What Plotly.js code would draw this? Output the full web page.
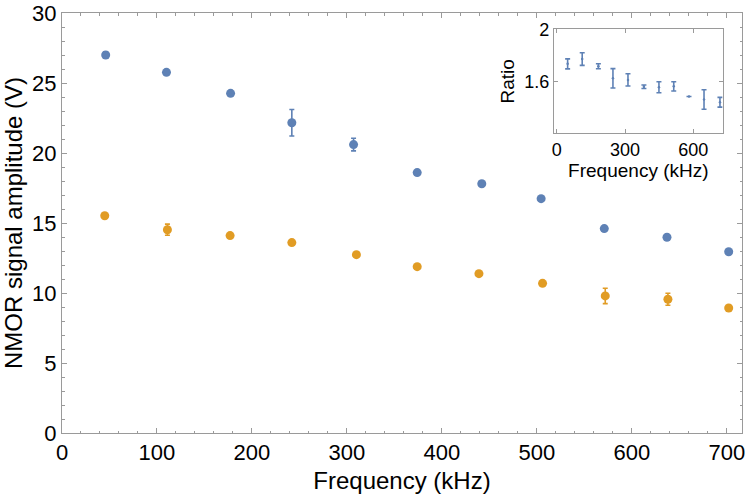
<!DOCTYPE html>
<html>
<head>
<meta charset="utf-8">
<script src="https://cdn.plot.ly/plotly-3.0.1.min.js"></script>
<style>
  html, body { margin: 0; padding: 0; background: #ffffff; }
  #chart { width: 747px; height: 498px; }
</style>
</head>
<body>
<div id="chart"></div>
<script>
  // main panel: NMOR signal amplitude vs frequency
  const freqBlue = [46, 110, 177.5, 242, 307, 374, 442, 504.5, 571, 637, 702];
  const ampBlue = [27.0, 25.76, 24.26, 22.16, 20.6, 18.6, 17.8, 16.74, 14.6, 13.98, 12.95];
  const errBlue = [0.22, 0.12, 0.12, 0.95, 0.45, 0.1, 0.1, 0.1, 0.12, 0.12, 0.12];

  const freqOrange = [45, 111, 177, 242, 310, 374, 439, 506, 572, 638, 702];
  const ampOrange = [15.52, 14.52, 14.1, 13.6, 12.74, 11.88, 11.38, 10.69, 9.79, 9.55, 8.93];
  const errOrange = [0.12, 0.4, 0.12, 0.12, 0.12, 0.12, 0.12, 0.12, 0.55, 0.43, 0.12];

  // inset: ratio of the two amplitudes (no visible bar on the 9th point)
  const freqRatio = [48, 112, 183, 247, 313, 383, 449, 514, 581, 647, 717];
  const ratio = [1.738, 1.774, 1.72, 1.628, 1.616, 1.564, 1.56, 1.567, 1.49, 1.467, 1.446];
  const errRatio = [0.038, 0.048, 0.019, 0.074, 0.047, 0.013, 0.042, 0.035, null, 0.074, 0.037];

  const BLUE = "#5e81b5";
  const ORANGE = "#e19c24";
  const FRAME = "#9a9a9a";
  const FONT = "Liberation Sans, Arial, sans-serif";

  function errBars(arr, color, width) {
    return { type: "data", array: arr, visible: true, color: color, thickness: 1.6, width: width };
  }

  const traces = [
    {
      type: "scatter", mode: "markers", x: freqBlue, y: ampBlue,
      error_y: errBars(errBlue, BLUE, 2.5),
      marker: { color: BLUE, size: 9 }, hoverinfo: "x+y"
    },
    {
      type: "scatter", mode: "markers", x: freqOrange, y: ampOrange,
      error_y: errBars(errOrange, ORANGE, 2.5),
      marker: { color: ORANGE, size: 9 }, hoverinfo: "x+y"
    },
    {
      type: "scatter", mode: "markers", x: freqRatio, y: ratio, xaxis: "x2", yaxis: "y2",
      error_y: errBars(errRatio, BLUE, 2.5),
      marker: { color: BLUE, size: 2.5 }, hoverinfo: "x+y"
    }
  ];

  const frameAxis = {
    showline: true, linecolor: FRAME, linewidth: 1, mirror: "allticks",
    ticks: "inside", tickcolor: FRAME, ticklen: 5, tickwidth: 1,
    showgrid: false, zeroline: false, fixedrange: true,
    tickfont: { family: FONT, size: 22, color: "#000" }
  };

  const layout = {
    width: 747, height: 498,
    margin: { l: 62, r: 5, t: 13, b: 65 },
    paper_bgcolor: "#ffffff", plot_bgcolor: "#ffffff",
    showlegend: false,
    font: { family: FONT, color: "#000" },
    xaxis: Object.assign({}, frameAxis, {
      range: [0, 716], tickvals: [0, 100, 200, 300, 400, 500, 600, 700],
      minor: { ticks: "inside", ticklen: 2.5, dtick: 20, tick0: 0, tickcolor: FRAME },
      title: { text: "Frequency (kHz)", font: { family: FONT, size: 24 }, standoff: 7 }
    }),
    yaxis: Object.assign({}, frameAxis, {
      range: [0, 30], tickvals: [0, 5, 10, 15, 20, 25, 30],
      minor: { ticks: "inside", ticklen: 2.5, dtick: 1, tick0: 0, tickcolor: FRAME },
      title: { text: "NMOR signal amplitude (V)", font: { family: FONT, size: 24 }, standoff: 6 }
    }),
    xaxis2: Object.assign({}, frameAxis, {
      domain: [0.7235, 0.9716], anchor: "y2",
      range: [-12, 729], tickvals: [0, 300, 600], ticklen: 4,
      tickfont: { family: FONT, size: 18, color: "#000" },
      title: { text: "Frequency (kHz)", font: { family: FONT, size: 19 }, standoff: 4 }
    }),
    yaxis2: Object.assign({}, frameAxis, {
      domain: [0.7136, 0.961], anchor: "x2",
      range: [1.21, 2.0], tickvals: [1.2, 1.6, 2], ticktext: ["", "1.6", "2"], ticklen: 4,
      tickfont: { family: FONT, size: 18, color: "#000" },
      title: { text: "Ratio", font: { family: FONT, size: 19 }, standoff: 4 }
    })
  };

  Plotly.newPlot("chart", traces, layout, { displayModeBar: false, staticPlot: true });
</script>
</body>
</html>
